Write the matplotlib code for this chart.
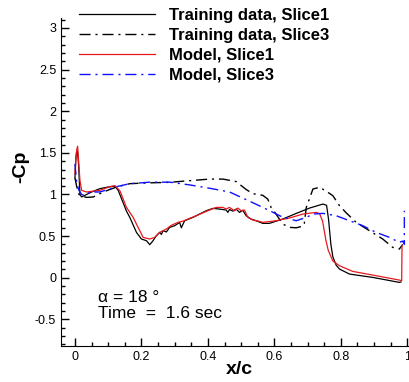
"""Surface pressure distribution: training data vs model, two slices."""

import matplotlib

matplotlib.use("Agg")
import matplotlib.pyplot as plt  # noqa: E402
from matplotlib.ticker import FuncFormatter, MultipleLocator  # noqa: E402

plt.rcParams["font.family"] = ["Liberation Sans", "DejaVu Sans"]

# Training data, Slice1 (black solid)
train_s1_x = [0.0, 0.003, 0.007, 0.011, 0.015, 0.02, 0.03, 0.05, 0.075, 0.1, 0.12, 0.13,
              0.14, 0.155, 0.165, 0.185, 0.2, 0.215, 0.225, 0.235, 0.245, 0.255, 0.26,
              0.265, 0.275, 0.285, 0.3, 0.315, 0.32, 0.33, 0.355, 0.375, 0.395, 0.415,
              0.435, 0.455, 0.46, 0.465, 0.475, 0.485, 0.495, 0.505, 0.515, 0.53, 0.545,
              0.565, 0.585, 0.625, 0.666, 0.706, 0.746, 0.757, 0.763, 0.77, 0.776, 0.786,
              0.796, 0.826, 0.896, 0.976, 0.981]
train_s1_y = [1.2, 1.45, 1.55, 1.35, 1.0, 0.97, 0.99, 1.03, 1.07, 1.09, 1.1, 1.05,
              0.95, 0.8, 0.725, 0.545, 0.465, 0.445, 0.397, 0.445, 0.505, 0.545, 0.52,
              0.565, 0.55, 0.605, 0.625, 0.665, 0.6, 0.685, 0.725, 0.765, 0.805, 0.833,
              0.825, 0.813, 0.785, 0.82, 0.8, 0.825, 0.785, 0.81, 0.745, 0.705, 0.685,
              0.653, 0.653, 0.705, 0.773, 0.837, 0.885, 0.87, 0.7, 0.4, 0.25, 0.15,
              0.104, 0.044, 0.004, -0.056, -0.05]

# Training data, Slice3 (black dash-dot)
train_s3_x = [0.0, 0.005, 0.012, 0.02, 0.035, 0.055, 0.085, 0.125, 0.165, 0.225, 0.285,
              0.345, 0.405, 0.445, 0.485, 0.515, 0.535, 0.565, 0.58, 0.59, 0.605, 0.625,
              0.646, 0.666, 0.686, 0.69, 0.696, 0.716, 0.736, 0.756, 0.776, 0.796, 0.816,
              0.846, 0.886, 0.926, 0.956, 0.976, 0.986]
train_s3_y = [1.2, 1.1, 1.0, 0.98, 0.965, 0.97, 1.03, 1.09, 1.13, 1.14, 1.146,
              1.166, 1.185, 1.185, 1.155, 1.06, 1.01, 0.99, 0.945, 0.845, 0.765, 0.645,
              0.605, 0.6, 0.62, 0.65, 0.845, 1.066, 1.086, 1.04, 0.985, 0.865, 0.78,
              0.665, 0.565, 0.465, 0.365, 0.345, 0.4]

# Model, Slice1 (red solid)
model_s1_x = [0.0, 0.004, 0.008, 0.011, 0.015, 0.02, 0.035, 0.075, 0.105, 0.12, 0.135,
              0.155, 0.175, 0.195, 0.205, 0.225, 0.24, 0.255, 0.275, 0.29, 0.31, 0.325,
              0.34, 0.365, 0.395, 0.425, 0.445, 0.455, 0.465, 0.48, 0.49, 0.5, 0.51,
              0.52, 0.535, 0.555, 0.565, 0.605, 0.645, 0.686, 0.726, 0.736, 0.745,
              0.755, 0.762, 0.776, 0.796, 0.836, 0.896, 0.976, 0.983, 0.984]
model_s1_y = [1.25, 1.5, 1.58, 1.4, 1.17, 1.05, 1.03, 1.05, 1.094, 1.106, 1.046,
              0.845, 0.725, 0.565, 0.485, 0.465, 0.485, 0.545, 0.585, 0.63, 0.665, 0.68,
              0.705, 0.745, 0.797, 0.845, 0.845, 0.825, 0.845, 0.805, 0.837, 0.805, 0.813,
              0.725, 0.693, 0.677, 0.665, 0.685, 0.717, 0.765, 0.785, 0.77, 0.68,
              0.45, 0.33, 0.2, 0.144, 0.076, 0.032, -0.028, -0.036, 0.385]

# Model, Slice3 (blue dash-dot)
model_s3_x = [0.0, 0.005, 0.012, 0.02, 0.03, 0.045, 0.075, 0.105, 0.125, 0.165, 0.225,
              0.285, 0.345, 0.405, 0.465, 0.525, 0.565, 0.586, 0.626, 0.666, 0.696,
              0.716, 0.746, 0.786, 0.826, 0.866, 0.906, 0.946, 0.976, 0.986, 0.991, 0.991]
model_s3_y = [1.37, 1.15, 1.05, 1.0, 0.99, 1.03, 1.03, 1.066, 1.094, 1.13, 1.148,
              1.148, 1.115, 1.075, 1.03, 0.92, 0.845, 0.805, 0.725, 0.685, 0.725,
              0.765, 0.773, 0.745, 0.685, 0.625, 0.545, 0.485, 0.425, 0.44, 0.4, 0.805]

legend_labels = ["Training data, Slice1", "Training data, Slice3",
                 "Model, Slice1", "Model, Slice3"]

dashdot = (8, 3.5, 1.5, 3.5)
plain = FuncFormatter(lambda v, pos: f"{v:g}")

fig = plt.figure(figsize=(4.1, 3.82), dpi=100)
ax = fig.add_axes([61 / 410, 36 / 382, 347 / 410, 328 / 382])

h1, = ax.plot(train_s1_x, train_s1_y, color="black", lw=0.9)
h2, = ax.plot(train_s3_x, train_s3_y, color="black", lw=1.0, dashes=dashdot)
h3, = ax.plot(model_s1_x, model_s1_y, color="#e8191c", lw=0.9)
h4, = ax.plot(model_s3_x, model_s3_y, color="#1010ff", lw=1.0, dashes=dashdot)

ax.set_xlim(-0.042, 1.002)
ax.set_ylim(-0.82, 3.12)
ax.spines["top"].set_visible(False)
ax.spines["right"].set_visible(False)
ax.xaxis.set_major_locator(MultipleLocator(0.2))
ax.xaxis.set_minor_locator(MultipleLocator(0.05))
ax.yaxis.set_major_locator(MultipleLocator(0.5))
ax.yaxis.set_minor_locator(MultipleLocator(0.1))
ax.xaxis.set_major_formatter(plain)
ax.yaxis.set_major_formatter(plain)
ax.tick_params(which="both", direction="in", width=1.0, labelsize=9)
ax.tick_params(which="major", length=6)
ax.tick_params(which="minor", length=3)

fig.text(0.585, 0.034, "x/c", fontsize=14, fontweight="bold", ha="center", va="center")
fig.text(0.051, 0.563, "-Cp", fontsize=14, fontweight="bold", rotation=90,
         ha="center", va="center")

ax.text(0.069, -0.24, "\u03b1 = 18 \u00b0", fontsize=12.5, va="center")
ax.text(0.069, -0.43, "Time  =  1.6 sec", fontsize=12.5, va="center")

fig.legend([h1, h2, h3, h4], legend_labels, loc="upper left",
           bbox_to_anchor=(72 / 410, 1.0 - 1 / 382), frameon=False, handlelength=4.6,
           handletextpad=0.85, labelspacing=0.3, borderaxespad=0.0,
           prop={"weight": "bold", "size": 12})

fig.savefig("out.png", dpi=100)
